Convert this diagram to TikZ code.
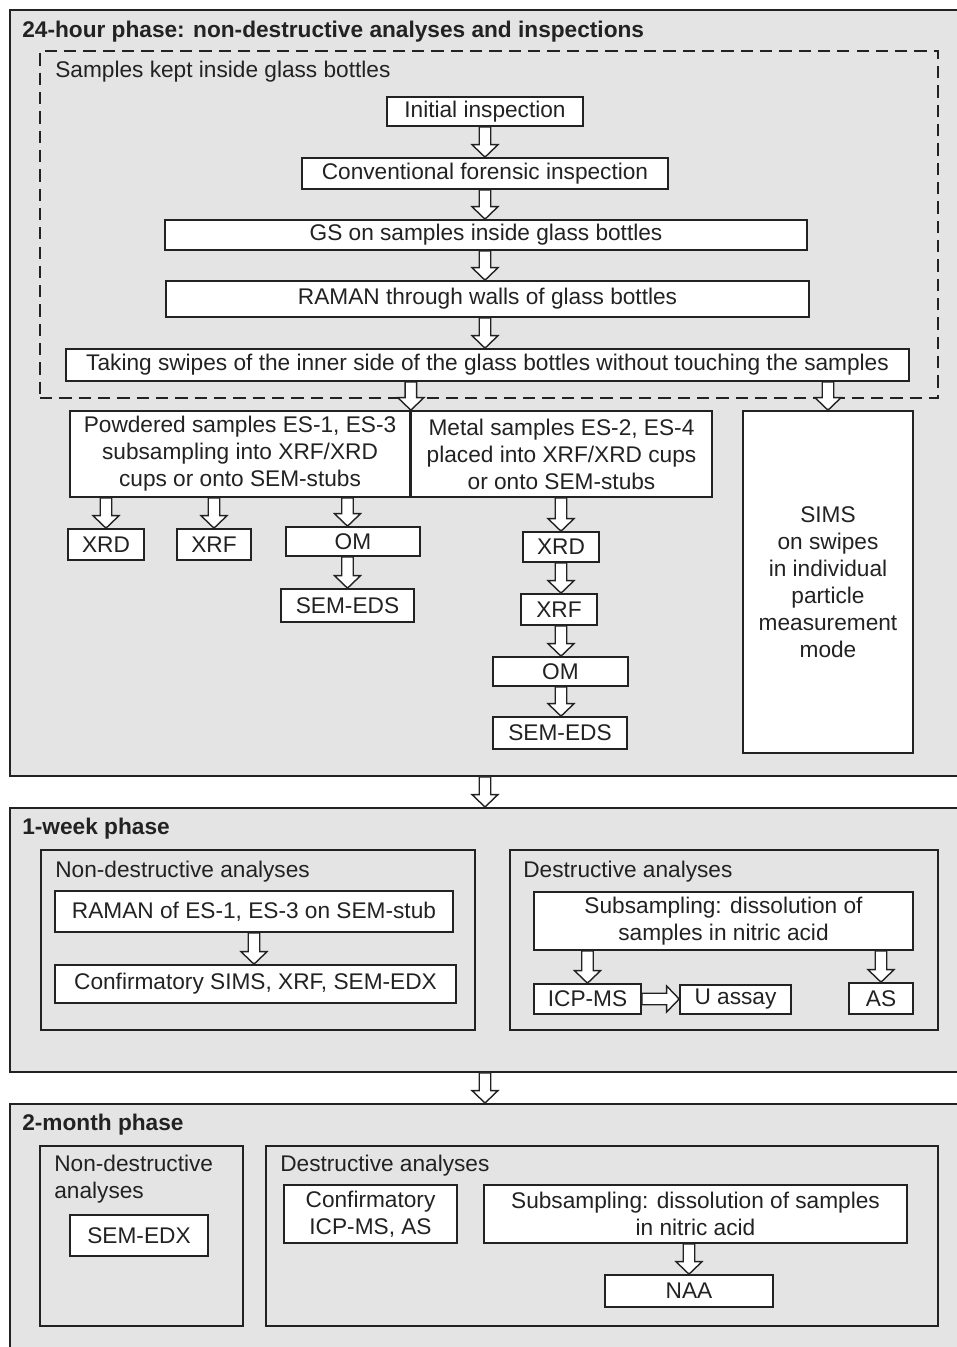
\documentclass[tikz,border=0pt]{standalone}
\usepackage{fontspec}
\setmainfont{Liberation Sans}
\usetikzlibrary{calc,fit}
\definecolor{panelgray}{HTML}{E4E4E4}
\definecolor{ink}{HTML}{222222}
\newcommand\fs{\fontsize{12.9}{15.4}\selectfont}
\tikzset{
 panel/.style={draw=ink, line width=1.1pt, fill=panelgray, inner sep=0pt},
 subpanel/.style={draw=ink, line width=1pt, fill=panelgray, inner sep=0pt},
 dashbox/.style={draw=ink, line width=1pt, dash pattern=on 7pt off 4pt, inner sep=0pt},
 box/.style={draw=ink, line width=0.95pt, fill=white, inner sep=0pt, align=center, text=ink, font=\fs},
 lbl/.style={anchor=west, inner sep=0pt, text=ink, font=\fs, align=left},
 ttl/.style={anchor=west, inner sep=0pt, text=ink, font=\fs\bfseries},
 harrowstyle/.style={draw=ink, line width=0.8pt, fill=white, line join=miter},
}
% box from pixel corner (x1,y1) to (x2,y2)
\newcommand\bx[6]{%
  \node[box, minimum width={(#4-#2)*0.02cm}, minimum height={(#5-#3)*0.02cm}] (#1) at ({(#2+#4)/2},{(#3+#5)/2}) {#6};}
\newcommand\harrow[2]{%
  \path (#1) coordinate (hsrc) (#2) coordinate (htgt);
  \path ($(htgt)!0.25cm!(hsrc)$) coordinate (hhd);
  \draw[harrowstyle] ($(hsrc)!0.115cm!90:(htgt)$) -- ($(hhd)!0.115cm!90:(htgt)$) -- ($(hhd)!0.26cm!90:(htgt)$) -- (htgt) -- ($(hhd)!0.26cm!-90:(htgt)$) -- ($(hhd)!0.115cm!-90:(htgt)$) -- ($(hsrc)!0.115cm!-90:(htgt)$) -- cycle;}
\begin{document}
\begin{tikzpicture}[x=0.02cm,y=-0.02cm]
\clip (0,0) rectangle (957,1347);
\fill[white] (0,0) rectangle (957,1347);
\coordinate (midx) at (485,0);
% ---------- panel 1
\node[panel, fit={(10,10) (990,776)}] (p1) {};
\node[ttl] (t1) at (22,32) {24-hour phase: non-destructive analyses and inspections};
\node[dashbox, fit={(40,51) (938,398)}] (bottles) {};
\node[lbl] (skl) at (55,72) {Samples kept inside glass bottles};
\bx{init}{387}{97}{583}{126}{Initial inspection}
\bx{conv}{302}{158}{668}{189}{Conventional forensic inspection}
\bx{gs}{165}{220}{807}{250}{GS on samples inside glass bottles}
\bx{raman}{166}{281}{809}{317}{RAMAN through walls of glass bottles}
\bx{swipe}{66}{349}{909}{381}{Taking swipes of the inner side of the glass bottles without touching the samples}
\bx{powd}{70}{411}{410}{497}{Powdered samples ES-1, ES-3\\subsampling into XRF/XRD\\cups or onto SEM-stubs}
\bx{metal}{411}{411}{712}{497}{Metal samples ES-2, ES-4\\placed into XRF/XRD cups\\or onto SEM-stubs}
\bx{sims}{743}{411}{913}{753}{SIMS\\on swipes\\in individual\\particle\\measurement\\mode}
\bx{pxrd}{68}{529}{144}{560}{XRD}
\bx{pxrf}{177}{529}{251}{560}{XRF}
\bx{pom}{286}{527}{420}{556}{OM}
\bx{psem}{281}{589}{414}{622}{SEM-EDS}
\bx{mxrd}{523}{532}{599}{562}{XRD}
\bx{mxrf}{521}{594}{597}{625}{XRF}
\bx{mom}{493}{657}{628}{686}{OM}
\bx{msem}{493}{717}{627}{749}{SEM-EDS}
\harrow{init.south}{conv.north}
\harrow{conv.south}{conv.south |- gs.north}
\harrow{gs.south -| conv.south}{conv.south |- raman.north}
\harrow{raman.south -| conv.south}{conv.south |- swipe.north}
\harrow{swipe.south -| powd.north east}{powd.north east}
\harrow{swipe.south -| sims.north}{sims.north}
\harrow{pxrd.north |- powd.south}{pxrd.north}
\harrow{pxrf.north |- powd.south}{pxrf.north}
\harrow{psem.north |- powd.south}{psem.north |- pom.north}
\harrow{psem.north |- pom.south}{psem.north}
\harrow{mxrd.north |- metal.south}{mxrd.north}
\harrow{mxrd.south}{mxrd.south |- mxrf.north}
\harrow{mxrd.south |- mxrf.south}{mxrd.south |- mom.north}
\harrow{mxrd.south |- mom.south}{mxrd.south |- msem.north}
% ---------- panel 2
\node[panel, fit={(10,808) (990,1072)}] (p2) {};
\harrow{p1.south -| midx}{p2.north -| midx}
\node[ttl] (t2) at (22,829) {1-week phase};
\node[subpanel, fit={(41,850) (475,1030)}] (nd2) {};
\node[lbl] (nd2l) at (55,872) {Non-destructive analyses};
\bx{ram2}{55}{891}{453}{932}{RAMAN of ES-1, ES-3 on SEM-stub}
\bx{conf2}{55}{965}{456}{1003}{Confirmatory SIMS, XRF, SEM-EDX}
\harrow{ram2.south}{ram2.south |- conf2.north}
\node[subpanel, fit={(510,850) (938,1030)}] (d2) {};
\node[lbl] (d2l) at (523,872) {Destructive analyses};
\bx{subs2}{534}{892}{913}{950}{Subsampling: dissolution of\\samples in nitric acid}
\bx{icp}{534}{984}{641}{1014}{ICP-MS}
\bx{uas}{680}{985}{791}{1014}{U assay}
\bx{as}{849}{983}{913}{1014}{AS}
\harrow{icp.north |- subs2.south}{icp.north}
\harrow{as.north |- subs2.south}{as.north}
\harrow{icp.east}{icp.east -| uas.west}
% ---------- panel 3
\node[panel, fit={(10,1104) (990,1380)}] (p3) {};
\harrow{p2.south -| midx}{p3.north -| midx}
\node[ttl] (t3) at (22,1125) {2-month phase};
\node[subpanel, fit={(40,1146) (243,1326)}] (nd3) {};
\node[lbl] (nd3l) at (54,1179.5) {Non-destructive\\analyses};
\bx{semedx}{70}{1215}{208}{1256}{SEM-EDX}
\node[subpanel, fit={(266,1146) (938,1326)}] (d3) {};
\node[lbl] (d3l) at (280,1166) {Destructive analyses};
\bx{conf3}{284}{1185}{457}{1243}{Confirmatory\\ICP-MS, AS}
\bx{subs3}{484}{1185}{907}{1243}{Subsampling: dissolution of samples\\in nitric acid}
\bx{naa}{605}{1275}{773}{1307}{NAA}
\harrow{naa.north |- subs3.south}{naa.north}
\end{tikzpicture}
\end{document}
